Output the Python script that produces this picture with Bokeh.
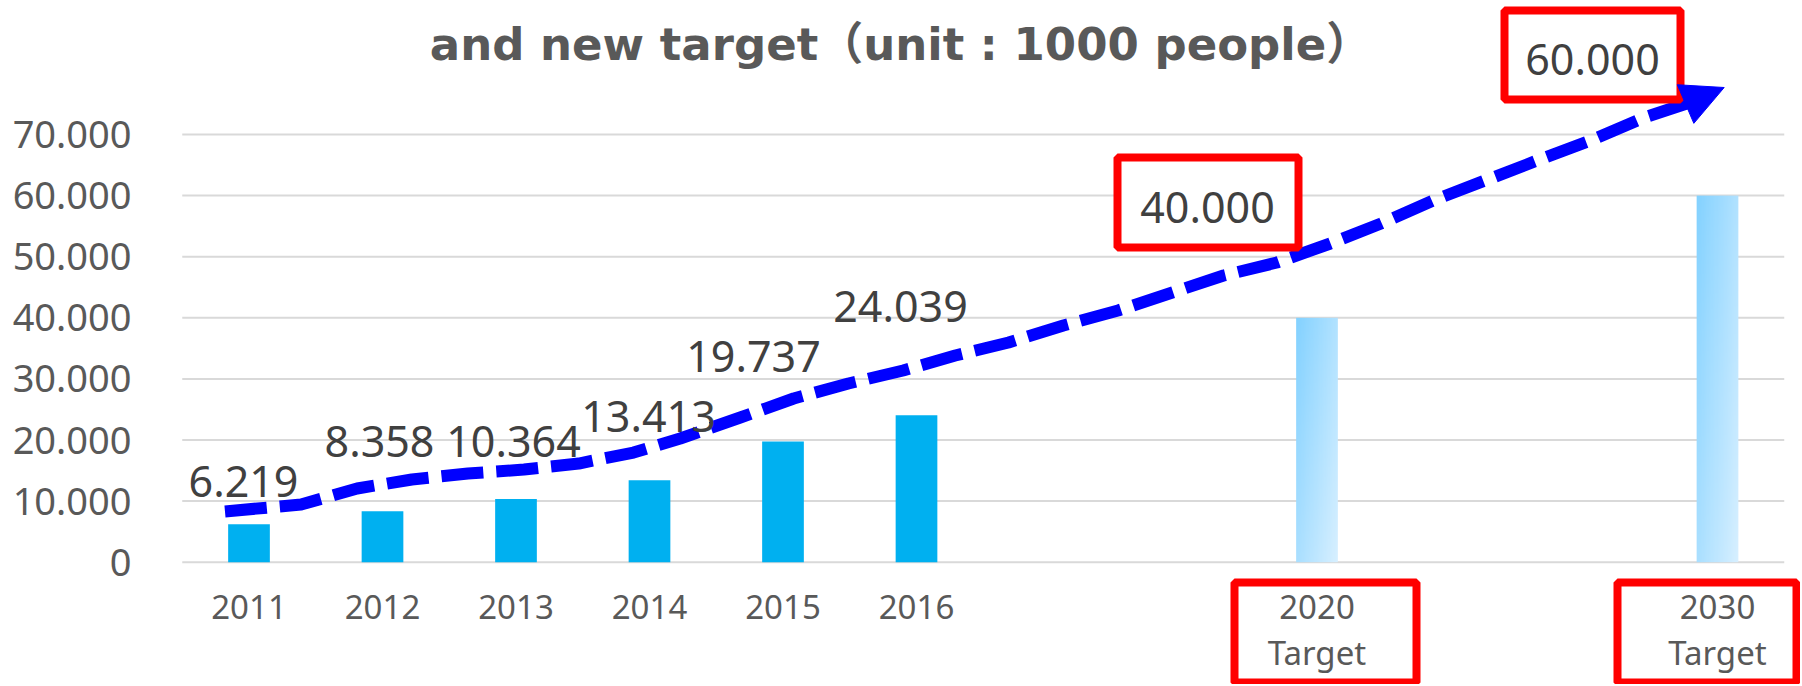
import numpy as np
from bokeh.plotting import figure
from bokeh.models import Range1d, FixedTicker, Arrow, NormalHead, ColumnDataSource
from bokeh.core.properties import value
from bokeh.embed import file_html
from bokeh.resources import INLINE

# ---------------- data ----------------
categories = ["2011", "2012", "2013", "2014", "2015", "2016", "", "",
              "2020\nTarget", "", "", "2030\nTarget"]
actual = [6219, 8358, 10364, 13413, 19737, 24039, None, None, None, None, None, None]
target = [None, None, None, None, None, None, None, None, 40000, None, None, 60000]
y_ticks = [0, 10000, 20000, 30000, 40000, 50000, 60000, 70000]
y_tick_labels = ["0", "10.000", "20.000", "30.000", "40.000", "50.000", "60.000", "70.000"]
title_text = "and new target\uff08unit : 1000 people\uff09"

# hand-drawn trend arrow of the original (category slot, value)
trend_slot = [-0.18, 0.39, 0.81, 1.22, 1.64, 2.06, 2.47, 2.88, 3.23, 3.68, 4.08, 4.49,
              4.90, 5.29, 5.69, 6.10, 6.51, 7.30, 7.70, 8.10, 8.48, 8.87, 9.26, 9.65,
              10.05, 10.45, 10.77, 11.05]
trend_value = [8300, 9440, 12060, 13540, 14520, 15170, 16150, 17950, 20250, 23680, 26790,
               29250, 31380, 33830, 35960, 38740, 41200, 46920, 49050, 52160, 55430, 59200,
               62470, 65750, 69020, 72780, 75070, 77690]

# ---------------- layout / style ----------------
FIG_W, FIG_H = 1800, 684
FRAME_LEFT = 181          # px
SLOT0_X, SLOT_PX = 248.5, 133.5
ZERO_Y, PX_PER_UNIT = 561.7, 61.1 / 10000.0
TXT_FIX = -16             # baseline correction for text glyphs (px)

def sx(X):
    return (X - SLOT0_X) / SLOT_PX

def vy(Y):
    return (ZERO_Y - Y) / PX_PER_UNIT

BAR_W = 41.7 / SLOT_PX
BAR_COLOR = "#00B0F0"
GRID_COLOR = "#D9D9D9"
AXIS_TXT = "#595959"
LABEL_TXT = "#404040"
RED = "#FF0000"
BLUE = "#0000FF"

# data-label placement (px offsets from bar top centre)
actual_lab_dx = [-5.5, -3, -2.5, -1, -29.5, -16]
actual_lab_dy = [-27, -53.6, -41.4, -47.7, -69.1, -92.8]
target_lab_dx = [-109.5, -125]
target_lab_dy = [-94, -120]
target_box_dx = [-109, -125]
target_box_dy = [-115.3, -140.6]
target_box_w = [181, 176]
target_box_h = [90, 89]
cat_box_dx = [8.5, -10.5]
cat_box_w = [182, 179]
cat_box_h = 100
cat_box_cy = 632
cat_baseline = 622
cat_line_gap = 46

p = figure(width=FIG_W, height=FIG_H, output_backend="svg", toolbar_location=None,
           x_range=Range1d(sx(FRAME_LEFT), sx(FIG_W)),
           y_range=Range1d(vy(FIG_H), vy(0)))
p.min_border = 0
p.min_border_left = FRAME_LEFT
p.outline_line_color = None
p.background_fill_color = "white"
p.border_fill_color = "white"
p.xaxis.visible = False
p.xgrid.visible = False
p.ygrid.visible = False

ax = p.yaxis[0]
ax.ticker = FixedTicker(ticks=y_ticks)
ax.major_label_overrides = {t: l for t, l in zip(y_ticks, y_tick_labels)}
ax.axis_line_color = None
ax.major_tick_line_color = None
ax.minor_tick_line_color = None
ax.major_tick_out = 0
ax.major_tick_in = 0
ax.major_label_standoff = 50
ax.major_label_text_font = "Noto Sans"
ax.major_label_text_font_size = "38px"
ax.major_label_text_color = AXIS_TXT

n = len(categories)

# gridlines spanning the category bands
p.segment(x0=[-0.5] * len(y_ticks), x1=[n - 0.5] * len(y_ticks), y0=y_ticks, y1=y_ticks,
          line_color=GRID_COLOR, line_width=2)

# actual bars
a_idx = [i for i, v in enumerate(actual) if v is not None]
a_vals = [actual[i] for i in a_idx]
p.vbar(x=a_idx, top=a_vals, bottom=0, width=BAR_W, fill_color=BAR_COLOR, line_color=None)

# target bars with gradient fill
t_idx = [i for i, v in enumerate(target) if v is not None]
t_vals = [target[i] for i in t_idx]
rows, cols = 256, 32
u = np.linspace(0, 1, cols)[None, :]
vtop = np.linspace(1, 0, rows)[:, None]
tt = np.clip(0.55 * u + 0.45 * vtop, 0, 1)
c0 = np.array([132, 210, 255])
c1 = np.array([216, 240, 255])
img = np.empty((rows, cols), dtype=np.uint32)
view = img.view(dtype=np.uint8).reshape((rows, cols, 4))
for k in range(3):
    view[:, :, k] = (c0[k] + (c1[k] - c0[k]) * tt).astype(np.uint8)
view[:, :, 3] = 255
for i, v in zip(t_idx, t_vals):
    p.image_rgba(image=[img], x=i - BAR_W / 2, y=0, dw=BAR_W, dh=v)

# trend arrow
p.line(trend_slot[:-1], trend_value[:-1], line_color=BLUE, line_width=12,
       line_dash="42 13", line_cap="butt", line_join="round")
p.add_layout(Arrow(end=NormalHead(size=42, fill_color=BLUE, line_color=BLUE, line_width=1),
                   x_start=trend_slot[-2], y_start=trend_value[-2],
                   x_end=trend_slot[-1], y_end=trend_value[-1], line_alpha=0))

# red boxes around target values
bx = [i + dx / SLOT_PX for i, dx in zip(t_idx, target_box_dx)]
by = [v - dy / PX_PER_UNIT for v, dy in zip(t_vals, target_box_dy)]
p.rect(x=bx, y=by, width=target_box_w, height=target_box_h, width_units="screen",
       height_units="screen", fill_color="white", line_color=RED, line_width=8)

# red boxes around target categories
cbx = [i + dx / SLOT_PX for i, dx in zip(t_idx, cat_box_dx)]
p.rect(x=cbx, y=[vy(cat_box_cy)] * len(t_idx), width=cat_box_w, height=[cat_box_h] * len(t_idx),
       width_units="screen", height_units="screen", fill_color="white",
       line_color=RED, line_width=8)

def fmt(v):
    return f"{v:,}".replace(",", ".")

# data labels
lab_src = ColumnDataSource(dict(
    x=a_idx + t_idx,
    y=a_vals + t_vals,
    text=[fmt(v) for v in a_vals + t_vals],
    xo=actual_lab_dx + target_lab_dx,
    yo=[d + TXT_FIX for d in actual_lab_dy + target_lab_dy],
))
p.text(x="x", y="y", text="text", x_offset="xo", y_offset="yo", source=lab_src,
       text_font=value("Noto Sans"), text_font_size="43px", text_color=LABEL_TXT,
       text_align="center", text_baseline="alphabetic")

# category labels (one glyph per text line)
cx, cy, ct = [], [], []
for i, c in enumerate(categories):
    for j, line in enumerate(c.split("\n")):
        if line:
            cx.append(i)
            cy.append(vy(cat_baseline + j * cat_line_gap))
            ct.append(line)
p.text(x=cx, y=cy, text=ct, y_offset=TXT_FIX, text_font=value("Noto Sans"),
       text_font_size="33px", text_color=AXIS_TXT, text_align="center",
       text_baseline="alphabetic")

# title
p.text(x=[sx(900)], y=[vy(60)], text=[title_text], y_offset=TXT_FIX,
       text_font=value("'DejaVu Sans', 'Noto Sans CJK JP'"),
       text_font_style="bold", text_font_size="45px", text_color=AXIS_TXT,
       text_align="center", text_baseline="alphabetic")

open("out.html", "w").write(file_html(p, INLINE))
